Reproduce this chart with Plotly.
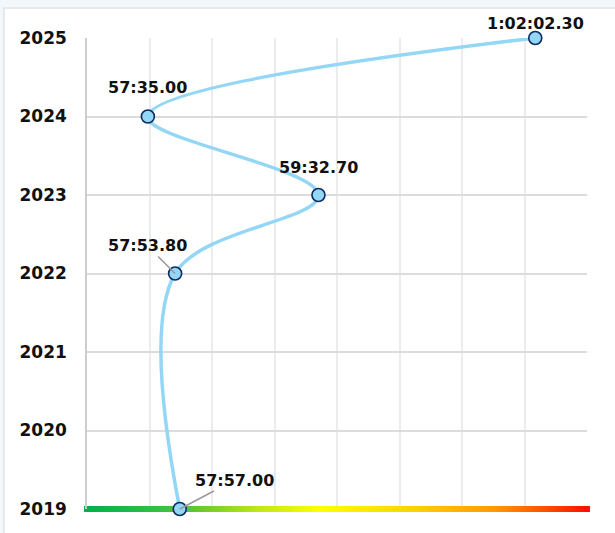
import plotly.graph_objects as go
import numpy as np

# ---- data ----
years = [2019, 2022, 2023, 2024, 2025]
time_labels = ["57:57.00", "57:53.80", "59:32.70", "57:35.00", "1:02:02.30"]
year_ticks = [2019, 2020, 2021, 2022, 2023, 2024, 2025]


def to_seconds(s):
    parts = [float(p) for p in s.split(":")]
    total = 0.0
    for p in parts:
        total = total * 60 + p
    return total


seconds = [to_seconds(t) for t in time_labels]

X_MIN, X_MAX = 3413.0, 3758.0
W, H = 615, 533
L, R, T, B = 87, 28, 38, 24
PW, PH = W - L - R, H - T - B

LINE_COLOR = "#93d6f5"
MARKER_EDGE = "#0d2b5e"
FONT = "DejaVu Sans"

fig = go.Figure()

# gradient bar along the bottom (2019 baseline)
gx = np.linspace(X_MIN, X_MAX, 260)
fig.add_trace(go.Scatter(
    x=gx, y=[years[0]] * len(gx), mode="markers",
    marker=dict(symbol="square", size=6, color=np.linspace(0, 1, len(gx)),
                colorscale=[[0, "#00b04a"], [0.2, "#4cc53a"], [0.35, "#c2e812"],
                            [0.47, "#ffff00"], [0.65, "#ffd400"], [0.82, "#ff9a00"],
                            [1, "#ff1200"]],
                line=dict(width=0), showscale=False),
    hoverinfo="skip", cliponaxis=False, showlegend=False,
))

# main spline
fig.add_trace(go.Scatter(
    x=seconds, y=years, mode="lines+markers",
    line=dict(color=LINE_COLOR, width=3.5, shape="spline", smoothing=1),
    marker=dict(size=13, color=LINE_COLOR, line=dict(color=MARKER_EDGE, width=1.6)),
    cliponaxis=False, showlegend=False,
    text=time_labels, hovertemplate="%{y}: %{text}<extra></extra>",
))

label_font = dict(family=FONT, size=16, color="#111111", weight="bold")
# label placement (pixel offsets)
offsets = {
    2019: dict(showarrow=True, ax=55, ay=-29),
    2022: dict(showarrow=True, ax=-28, ay=-28),
    2023: dict(showarrow=False, yshift=28),
    2024: dict(showarrow=False, yshift=29),
    2025: dict(showarrow=False, yshift=15),
}
for yr, sec, lab in zip(years, seconds, time_labels):
    o = offsets[yr]
    kw = dict(x=sec, y=yr, xref="x", yref="y", text=lab, font=label_font)
    if o["showarrow"]:
        kw.update(showarrow=True, ax=o["ax"], ay=o["ay"], arrowhead=0,
                  arrowwidth=1.5, arrowcolor="#9a9a9a", standoff=0, startstandoff=0)
    else:
        kw.update(showarrow=False, yshift=o["yshift"])
    fig.add_annotation(**kw)

# card background
fig.add_shape(type="rect", xref="paper", yref="paper",
              x0=(4 - L) / PW, x1=(W + 20 - L) / PW,
              y0=-(B + 20) / PH, y1=1 + (T - 8) / PH,
              fillcolor="white", line=dict(color="#e2e2e2", width=1.5), layer="below")

fig.update_layout(
    width=W, height=H,
    margin=dict(l=L, r=R, t=T, b=B),
    paper_bgcolor="#f1f7fb", plot_bgcolor="rgba(0,0,0,0)",
    font=dict(family=FONT),
    xaxis=dict(range=[X_MIN, X_MAX], tickvals=list(np.linspace(X_MIN, X_MAX, 9)),
               showticklabels=False, showgrid=True, gridcolor="#ececec", gridwidth=1.5,
               zeroline=False, showline=False, ticks=""),
    yaxis=dict(range=[year_ticks[0], year_ticks[-1]], tickvals=year_ticks,
               ticktext=[str(y) for y in year_ticks],
               tickfont=dict(family=FONT, size=17, color="#111111", weight="bold"),
               showgrid=True, gridcolor="#dcdcdc", gridwidth=1.5,
               zeroline=False, showline=True, linecolor="#cccccc", linewidth=1.5,
               ticks="", ticklabelstandoff=15),
    hovermode="closest",
)

fig.write_html("out.html",
               config={"displayModeBar": False},
               post_script="document.body.style.margin='0px';"
                           "document.body.style.overflow='hidden';")
